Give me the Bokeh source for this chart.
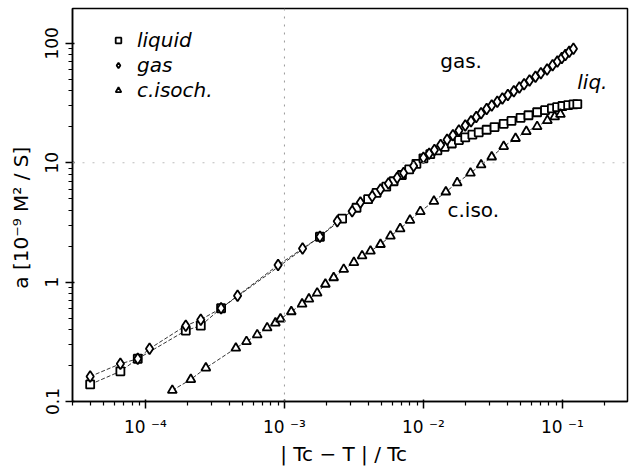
from bokeh.plotting import figure
from bokeh.models import (Range1d, FixedTicker, CustomJSTickFormatter, Legend,
                          LegendItem, Span, Label)
from bokeh.embed import file_html
from bokeh.resources import INLINE

# ---------------- data ----------------
gas_x = [4.0e-5, 6.6e-5, 8.8e-5, 1.07e-4, 1.95e-4, 2.5e-4, 3.5e-4, 4.6e-4,
         9.0e-4, 1.35e-3, 1.8e-3, 2.4e-3, 3.07e-3, 3.52e-3, 4.28e-3, 4.91e-3,
         5.6e-3, 6.47e-3, 7.2e-3, 8.5e-3, 1.0e-2, 1.1e-2, 1.2e-2, 1.33e-2,
         1.48e-2, 1.63e-2, 1.8e-2, 2.0e-2, 2.2e-2, 2.4e-2, 2.6e-2, 2.85e-2,
         3.1e-2, 3.4e-2, 3.7e-2, 4.05e-2, 4.47e-2, 4.9e-2, 5.3e-2, 5.8e-2,
         6.4e-2, 7.0e-2, 7.76e-2, 8.5e-2, 9.2e-2, 9.9e-2, 0.105, 0.112, 0.12]
gas_y = [0.162, 0.207, 0.228, 0.277, 0.432, 0.485, 0.604, 0.769,
         1.39, 1.91, 2.40, 3.24, 3.93, 4.64, 5.24, 5.96,
         6.7, 7.5, 8.2, 9.4, 11.0, 11.9, 12.8, 14.1,
         15.6, 17.0, 18.6, 20.5, 22.3, 24.2, 26.0, 28.2,
         30.2, 32.5, 34.6, 37.0, 39.8, 42.8, 45.5, 48.8,
         52.5, 56.3, 60.5, 65.5, 70.5, 75.5, 80.0, 85.0, 90.0]

liq_x = [4.0e-5, 6.6e-5, 8.8e-5, 1.95e-4, 2.5e-4, 3.5e-4,
         1.8e-3, 2.6e-3, 3.3e-3, 4.0e-3, 4.6e-3, 5.4e-3, 6.1e-3, 7.0e-3,
         7.9e-3, 8.9e-3, 1.0e-2, 1.12e-2, 1.26e-2, 1.42e-2, 1.6e-2, 1.8e-2,
         2.0e-2, 2.25e-2, 2.5e-2, 2.85e-2, 3.25e-2, 3.78e-2, 4.3e-2, 5.0e-2,
         5.7e-2, 6.58e-2, 7.5e-2, 8.4e-2, 9.16e-2, 0.1, 0.11, 0.12, 0.128]
liq_y = [0.139, 0.179, 0.228, 0.393, 0.432, 0.604,
         2.4, 3.4, 4.2, 4.95, 5.6, 6.3, 7.0, 7.9,
         8.8, 9.8, 10.9, 11.8, 12.7, 13.6, 14.5, 15.5,
         16.3, 17.2, 18.0, 18.9, 19.9, 21.2, 22.4, 23.8,
         25.0, 26.5, 27.6, 28.5, 29.3, 29.9, 30.4, 30.8, 31.0]

iso_x = [1.56e-4, 2.12e-4, 2.72e-4, 4.47e-4, 5.33e-4, 6.37e-4, 7.51e-4,
         8.61e-4, 9.36e-4, 1.12e-3, 1.34e-3, 1.50e-3, 1.72e-3, 1.97e-3,
         2.26e-3, 2.67e-3, 3.16e-3, 3.62e-3, 4.16e-3, 4.91e-3, 5.79e-3,
         6.8e-3, 8.0e-3, 9.5e-3, 1.19e-2, 1.45e-2, 1.75e-2, 2.18e-2, 2.6e-2,
         3.1e-2, 3.78e-2, 4.6e-2, 5.5e-2, 6.58e-2, 7.8e-2, 8.8e-2, 9.68e-2]
iso_y = [0.124, 0.153, 0.191, 0.280, 0.318, 0.362, 0.414,
         0.455, 0.492, 0.566, 0.656, 0.722, 0.81, 0.962,
         1.09, 1.28, 1.46, 1.66, 1.82, 2.07, 2.43,
         2.8, 3.3, 3.9, 4.76, 5.7, 6.8, 8.2, 9.6,
         11.2, 13.7, 16.0, 18.3, 20.1, 22.6, 24.3, 25.5]

x_major = [1e-4, 1e-3, 1e-2, 1e-1]
y_major = [0.1, 1, 10, 100]
x_minor = [k * 10.0 ** e for e in range(-5, 0) for k in range(2, 10)]
y_minor = [k * 10.0 ** e for e in range(-1, 3) for k in range(2, 10)]

x_lo, x_hi = 2.985e-5, 0.294
y_lo, y_hi = 0.1, 196.0

FONT = "DejaVu Sans"

p = figure(width=637, height=468, x_axis_type="log", y_axis_type="log",
           x_range=Range1d(x_lo, x_hi), y_range=Range1d(y_lo, y_hi),
           output_backend="svg", toolbar_location=None,
           min_border_left=72, min_border_right=10, min_border_top=8,
           min_border_bottom=65)
p.background_fill_color = "white"
p.border_fill_color = "white"
p.outline_line_color = "black"
p.outline_line_width = 1.5
p.xgrid.visible = False
p.ygrid.visible = False

# dotted reference lines
p.add_layout(Span(location=1e-3, dimension="height", line_color="#999999",
                  line_dash="2 6", line_width=1))
p.add_layout(Span(location=10, dimension="width", line_color="#bbbbbb",
                  line_dash="2 8", line_width=1))

# thin curves through the data
for xs, ys in ((gas_x, gas_y), (liq_x, liq_y), (iso_x, iso_y)):
    p.line(xs, ys, line_color="black", line_width=0.8, line_dash="4 2")

r_liq = p.scatter(liq_x, liq_y, marker="square", size=8, fill_color="white",
                  line_color="black", line_width=1.8)
r_gas = p.scatter(gas_x, gas_y, marker="diamond", size=11, fill_color="white",
                  line_color="black", line_width=1.8)
r_iso = p.scatter(iso_x, iso_y, marker="triangle", size=9, fill_color="white",
                  line_color="black", line_width=1.8)

# axes
for ax in (p.xaxis[0], p.yaxis[0]):
    ax.axis_line_width = 1.5
    ax.major_tick_line_width = 1.5
    ax.minor_tick_line_width = 1.2
    ax.major_tick_out = 7
    ax.major_tick_in = 2
    ax.minor_tick_out = 4
    ax.minor_tick_in = 0
    ax.major_label_text_font = FONT
    ax.major_label_text_font_size = "17px"
    ax.major_label_text_color = "black"
    ax.axis_label_text_font = FONT
    ax.axis_label_text_font_size = "20px"
    ax.axis_label_text_font_style = "normal"
    ax.axis_label_text_color = "black"

p.xaxis.ticker = FixedTicker(ticks=x_major, minor_ticks=x_minor)
p.yaxis.ticker = FixedTicker(ticks=y_major, minor_ticks=y_minor)
p.xaxis.formatter = CustomJSTickFormatter(code="""
const e = Math.round(Math.log10(tick));
const sup = {"-": "\u207b", "0": "\u2070", "1": "\u00b9", "2": "\u00b2",
             "3": "\u00b3", "4": "\u2074", "5": "\u2075"};
return "10 " + String(e).split("").map(c => sup[c]).join("");
""")
p.yaxis.formatter = CustomJSTickFormatter(code="return String(tick);")
p.yaxis.major_label_orientation = "vertical"
p.xaxis.major_label_standoff = 8
p.yaxis.major_label_standoff = 7
p.xaxis.axis_label = "| Tc \u2212  T |  / Tc"
p.yaxis.axis_label = "a    [10\u207b\u2079  M\u00b2 / S]"
p.xaxis.axis_label_standoff = 2
p.yaxis.axis_label_standoff = 10

legend = Legend(items=[LegendItem(label="liquid", renderers=[r_liq]),
                       LegendItem(label="gas", renderers=[r_gas]),
                       LegendItem(label="c.isoch.", renderers=[r_iso])],
                location=(39, 299), padding=0, spacing=1, glyph_width=14,
                glyph_height=20, label_standoff=12, border_line_alpha=0,
                background_fill_alpha=0, label_text_font=FONT,
                label_text_font_size="20px", label_text_font_style="italic",
                label_text_color="black", label_height=20)
p.add_layout(legend)

p.add_layout(Label(x=1.32e-2, y=57, text="gas.", text_font=FONT,
                   text_font_size="20px", text_color="black"))
p.add_layout(Label(x=0.128, y=38, text="liq.", text_font=FONT,
                   text_font_size="20px", text_font_style="italic",
                   text_color="black"))
p.add_layout(Label(x=1.49e-2, y=3.16, text="c.iso.", text_font=FONT,
                   text_font_size="20px", text_color="black"))

open("out.html", "w").write(file_html(p, INLINE))
